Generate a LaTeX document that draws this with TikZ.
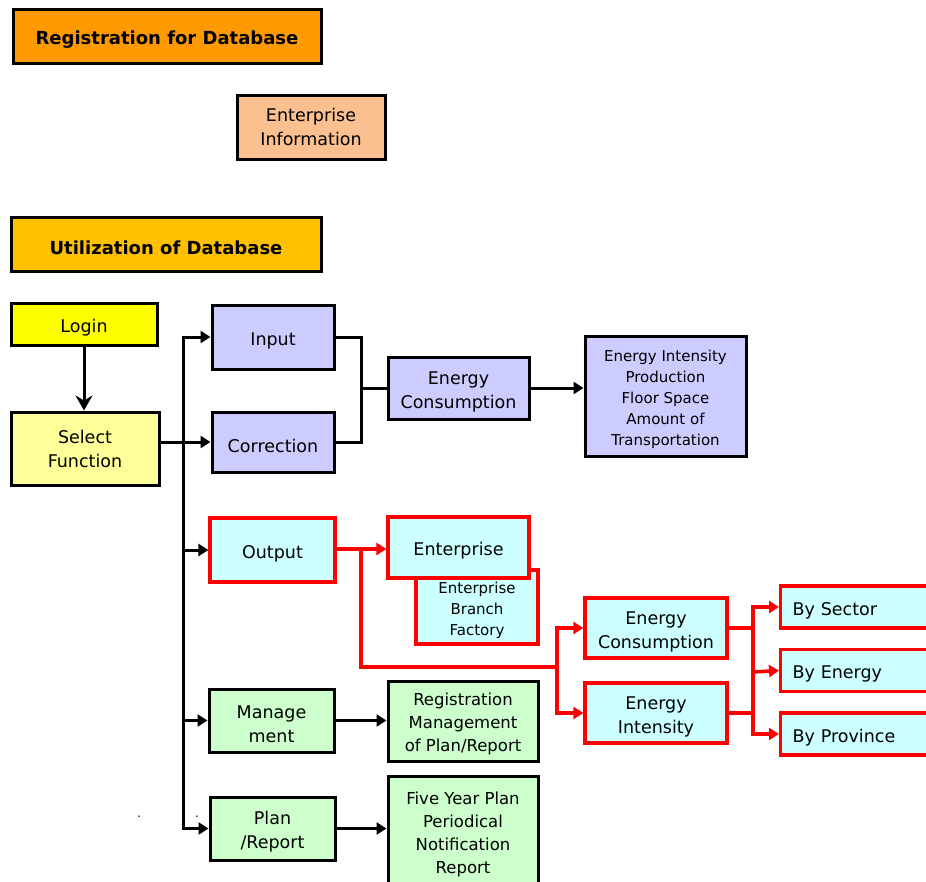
\documentclass[tikz,border=0pt]{standalone}
\usepackage{fontspec}
\setmainfont{DejaVu Sans}
\usetikzlibrary{arrows.meta}
\definecolor{cReg}{HTML}{FF9900}
\definecolor{cEnt}{HTML}{FAC090}
\definecolor{cUtil}{HTML}{FFC000}
\definecolor{cLogin}{HTML}{FFFF00}
\definecolor{cSel}{HTML}{FFFF99}
\definecolor{cBlue}{HTML}{CCCCFF}
\definecolor{cCyan}{HTML}{CCFFFF}
\definecolor{cGreen}{HTML}{CCFFCC}
\definecolor{cRed}{HTML}{FF0000}
\newcommand{\fMain}{\fontsize{17.5}{24}\selectfont}
\newcommand{\fMid}{\fontsize{16.5}{23}\selectfont}
\newcommand{\fSmall}{\fontsize{15}{21}\selectfont}
\newcommand{\fHead}{\fontsize{18}{24}\selectfont\bfseries}
\newcommand{\fl}{\rule{0pt}{1.17em}}
\tikzset{
  box/.style={draw=black, line width=3pt, inner sep=1pt, align=center, font=\fMain},
  rbox/.style={box, draw=cRed, line width=3.2pt, fill=cCyan},
  blk/.style={line width=3pt, draw=black},
  blkarr/.style={blk, -{Triangle[length=10pt,width=12pt]}},
  loginarr/.style={blk, -{Stealth[length=15pt,width=17pt,inset=5pt]}},
  redl/.style={line width=3.5pt, draw=cRed},
  redarr/.style={redl, -{Triangle[length=10pt,width=12pt]}},
  dotnode/.style={inner sep=0pt, font=\fontsize{12}{14}\selectfont, anchor=base},
}
\begin{document}
\begin{tikzpicture}[x=1pt,y=-1pt]
\useasboundingbox (0,0) rectangle (926,881);
% header boxes
\node[box, fill=cReg, font=\fHead, minimum width=308, minimum height=54] (reg) at (167,36) {\fl Registration for Database};
\node[box, fill=cEnt, minimum width=148, minimum height=64] (entinfo) at (311,127) {Enterprise\\Information};
\node[box, fill=cUtil, font=\fHead, minimum width=310, minimum height=54] (util) at (166,244) {\fl Utilization of Database};
% left column
\node[box, fill=cLogin, minimum width=146, minimum height=42] (login) at (84,324) {\fl Login};
\node[box, fill=cSel, minimum width=148, minimum height=73] (select) at (85,448.5) {Select\\Function};
% blue
\node[box, fill=cBlue, minimum width=122, minimum height=64] (input) at (273,337) {\fl Input};
\node[box, fill=cBlue, minimum width=122, minimum height=60] (corr) at (273,442) {\fl Correction};
\node[box, fill=cBlue, minimum width=141, minimum height=62] (ecb) at (458.5,388) {\fl Energy\\Consumption};
\node[box, fill=cBlue, font=\fSmall, minimum width=161, minimum height=120] (eil) at (665.5,396) {\fl Energy Intensity\\Production\\Floor Space\\Amount of\\Transportation};
% red / cyan
\node[rbox, minimum width=125, minimum height=64] (output) at (272.5,550) {\fl Output};
\node[rbox, font=\fSmall, minimum width=122, minimum height=74] (ebf) at (477,607) {\fl Enterprise\\Branch\\Factory};
\node[rbox, minimum width=141, minimum height=61] (entr) at (458.5,547.5) {\fl Enterprise};
\node[rbox, minimum width=142, minimum height=60] (ecc) at (656,628) {\fl Energy\\Consumption};
\node[rbox, minimum width=142, minimum height=60] (eic) at (656,713) {\fl Energy\\Intensity};
\node[rbox, anchor=west, align=left, text width=160, inner xsep=12pt, minimum height=42] (bysec) at (779,607) {\fl By Sector};
\node[rbox, anchor=west, align=left, text width=160, inner xsep=12pt, minimum height=42] (byen) at (779,670.5) {\fl By Energy};
\node[rbox, anchor=west, align=left, text width=160, inner xsep=12pt, minimum height=42] (byprov) at (779,734) {\fl By Province};
% green
\node[box, fill=cGreen, minimum width=125, minimum height=63] (manage) at (271.5,720.5) {\fl Manage\\ment};
\node[box, fill=cGreen, font=\fMid, minimum width=150, minimum height=80] (regm) at (463,721) {\fl Registration\\Management\\of Plan/Report};
\node[box, fill=cGreen, minimum width=125, minimum height=63] (plan) at (272.5,828.5) {\fl Plan\\/Report};
\node[box, fill=cGreen, font=\fMid, minimum width=150, minimum height=111] (five) at (463,831.5) {\fl Five Year Plan\\Periodical\\Notification\\Report};
% dots
\node[dotnode] (dotA) at (139,817) {.};
\node[dotnode] (dotB) at (197,817) {.};
% connectors black
\draw[loginarr] (login.south) -- (login.south |- select.north);
\coordinate (tr) at (183,442);
\draw[blkarr] (select.east |- corr.west) -- (corr.west);
\draw[blkarr] (tr) |- (input.west);
\draw[blkarr] (tr) |- (plan.west);
\draw[blkarr] (tr |- output.west) -- (output.west);
\draw[blkarr] (tr |- manage.west) -- (manage.west);
\coordinate (m1) at (361,388);
\draw[blk] (input.east) -| (m1);
\draw[blk] (corr.east) -| (m1);
\draw[blk] (m1) -- (ecb.west);
\draw[blkarr] (ecb.east) -- (eil.west |- ecb.east);
\draw[blkarr] (manage.east) -- (regm.west |- manage.east);
\draw[blkarr] (plan.east) -- (five.west |- plan.east);
% connectors red
\coordinate (r1) at (361,549);
\coordinate (r2) at (557,667);
\draw[redarr] (output.east |- r1) -- (entr.west |- r1);
\draw[redl] (r1) |- (r2);
\draw[redarr] (r2) |- (ecc.west);
\draw[redarr] (r2) |- (eic.west);
\coordinate (r3) at (753,672);
\draw[redl] (ecc.east) -| (r3);
\draw[redl] (eic.east) -| (r3);
\draw[redarr] (r3) |- (bysec.west);
\draw[redarr] (r3) -- (byen.west);
\draw[redarr] (r3) |- (byprov.west);
\end{tikzpicture}
\end{document}
